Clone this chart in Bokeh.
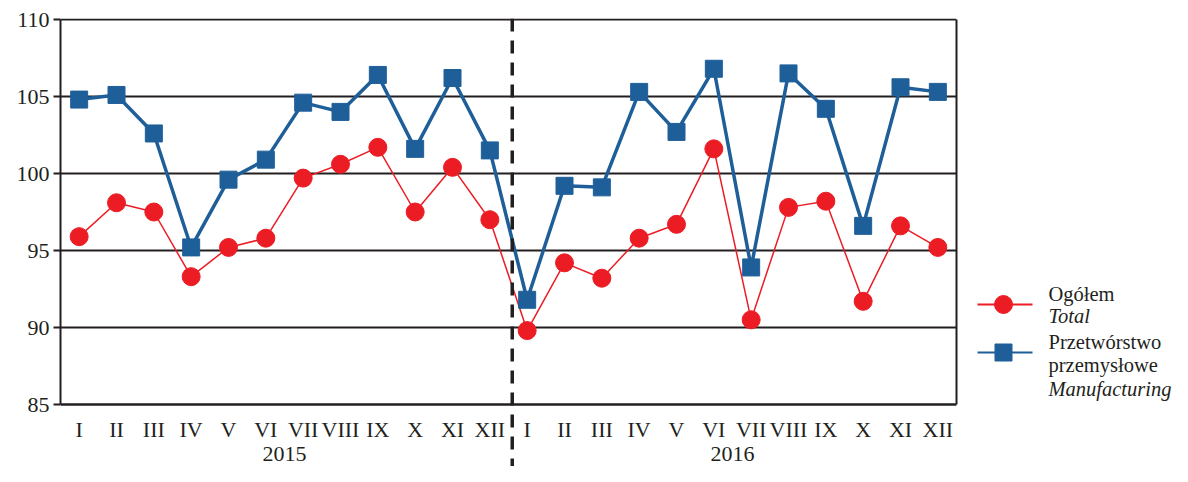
from bokeh.plotting import figure
from bokeh.models import Range1d, FixedTicker, Span, LinearAxis
from bokeh.layouts import row
from bokeh.core.properties import value
from bokeh.embed import file_html
from bokeh.resources import INLINE

months = ["I", "II", "III", "IV", "V", "VI", "VII", "VIII", "IX", "X", "XI", "XII"]
years = ["2015", "2016"]
total = [95.9, 98.1, 97.5, 93.3, 95.2, 95.8, 99.7, 100.6, 101.7, 97.5, 100.4, 97.0,
         89.8, 94.2, 93.2, 95.8, 96.7, 101.6, 90.5, 97.8, 98.2, 91.7, 96.6, 95.2]
manufacturing = [104.8, 105.1, 102.6, 95.2, 99.6, 100.9, 104.6, 104.0, 106.4, 101.6, 106.2, 101.5,
                 91.8, 99.2, 99.1, 105.3, 102.7, 106.8, 93.9, 106.5, 104.2, 96.6, 105.6, 105.3]
y_ticks = [85, 90, 95, 100, 105, 110]
legend_total = ["Ogółem", "Total"]
legend_manu = ["Przetwórstwo", "przemysłowe", "Manufacturing"]

RED = "#ec1c24"
BLUE = "#1f5f99"
INK = "#231f20"
FONT = "Liberation Serif"

# layout constants (pixels)
H = 466
TOP = 18
PX_PER_UNIT = 385 / 25.0
Y_MIN, Y_MAX = 85, 110
y_top = Y_MAX + 1 / PX_PER_UNIT
y_bottom = Y_MIN - (H - 404) / PX_PER_UNIT

x = list(range(len(months) * len(years)))
month_labels = {i: months[i % 12] for i in x}
year_pos = [5.5 + 12 * i for i in range(len(years))]
year_labels = {p_: y_ for p_, y_ in zip(year_pos, years)}

p = figure(width=966, height=H, x_range=Range1d(-0.5, 23.5), y_range=Range1d(y_bottom, y_top),
           output_backend="svg", toolbar_location=None,
           min_border_left=60, min_border_right=10, min_border_top=TOP, min_border_bottom=0)
p.outline_line_color = None
p.xgrid.visible = False
p.ygrid.ticker = FixedTicker(ticks=y_ticks)
p.ygrid.grid_line_color = INK
p.ygrid.grid_line_width = 2

p.yaxis.ticker = FixedTicker(ticks=y_ticks)
p.yaxis.bounds = (Y_MIN, Y_MAX)
p.yaxis.major_tick_out = 7
p.yaxis.major_tick_in = 0
p.yaxis.major_tick_line_color = INK
p.yaxis.major_tick_line_width = 2
p.yaxis.minor_tick_line_color = None
p.yaxis.major_label_standoff = 4

p.xaxis.fixed_location = Y_MIN
p.xaxis.ticker = FixedTicker(ticks=x)
p.xaxis.major_label_overrides = month_labels
p.xaxis.major_tick_line_color = None
p.xaxis.minor_tick_line_color = None
p.xaxis.major_tick_out = 0
p.xaxis.major_tick_in = 0
p.xaxis.major_label_standoff = 12

for ax in (p.xaxis, p.yaxis):
    ax.axis_line_color = INK
    ax.axis_line_width = 2
    ax.major_label_text_font = FONT
    ax.major_label_text_font_size = "22px"
    ax.major_label_text_color = INK

year_axis = LinearAxis(fixed_location=Y_MIN, ticker=FixedTicker(ticks=year_pos),
                       major_label_overrides=year_labels, axis_line_color=None,
                       major_tick_line_color=None, minor_tick_line_color=None,
                       major_tick_out=0, major_tick_in=0, major_label_standoff=42,
                       major_label_text_font=FONT, major_label_text_font_size="22px",
                       major_label_text_color=INK)
p.add_layout(year_axis, "below")

right_axis = LinearAxis(bounds=(Y_MIN, Y_MAX), ticker=FixedTicker(ticks=[]),
                        axis_line_color=INK, axis_line_width=2,
                        major_tick_line_color=None, minor_tick_line_color=None,
                        major_tick_out=0, major_tick_in=0, major_label_standoff=0,
                        major_label_text_font_size="0px")
p.add_layout(right_axis, "right")

p.line(x, total, line_color=RED, line_width=1.5)
p.scatter(x, total, marker="circle", size=18, fill_color=RED, line_color=RED)
p.line(x, manufacturing, line_color=BLUE, line_width=3.5)
p.scatter(x, manufacturing, marker="square", size=17, fill_color=BLUE, line_color=BLUE)

p.add_layout(Span(location=11.6, dimension="height", line_color=INK, line_width=3.5,
                  line_dash="13 9"))

# legend panel (coordinates in page pixels)
lg = figure(width=206, height=H, x_range=Range1d(966, 1172), y_range=Range1d(H, TOP),
            x_axis_type=None, y_axis_type=None, output_backend="svg", toolbar_location=None,
            min_border_left=0, min_border_right=0, min_border_top=TOP, min_border_bottom=0,
            outline_line_color=None)
lg.line([977, 1032], [304, 304], line_color=RED, line_width=2)
lg.scatter([1003], [304], marker="circle", size=18, fill_color=RED, line_color=RED)
lg.line([977, 1032], [352, 352], line_color=BLUE, line_width=2)
lg.scatter([1003], [352], marker="square", size=17, fill_color=BLUE, line_color=BLUE)
FS = "20.5px"
lg.text([1048], [293], text=[legend_total[0]], text_font=value(FONT), text_font_size=FS,
        text_baseline="middle", text_color=INK)
lg.text([1048], [315], text=[legend_total[1]], text_font=value(FONT), text_font_size=FS,
        text_font_style="italic", text_baseline="middle", text_color=INK)
lg.text([1048, 1048], [341, 364], text=legend_manu[:2], text_font=value(FONT), text_font_size=FS,
        text_baseline="middle", text_color=INK)
lg.text([1048], [388], text=[legend_manu[2]], text_font=value(FONT), text_font_size=FS,
        text_font_style="italic", text_baseline="middle", text_color=INK)

layout = row(p, lg)
open("out.html", "w").write(file_html(layout, INLINE))
